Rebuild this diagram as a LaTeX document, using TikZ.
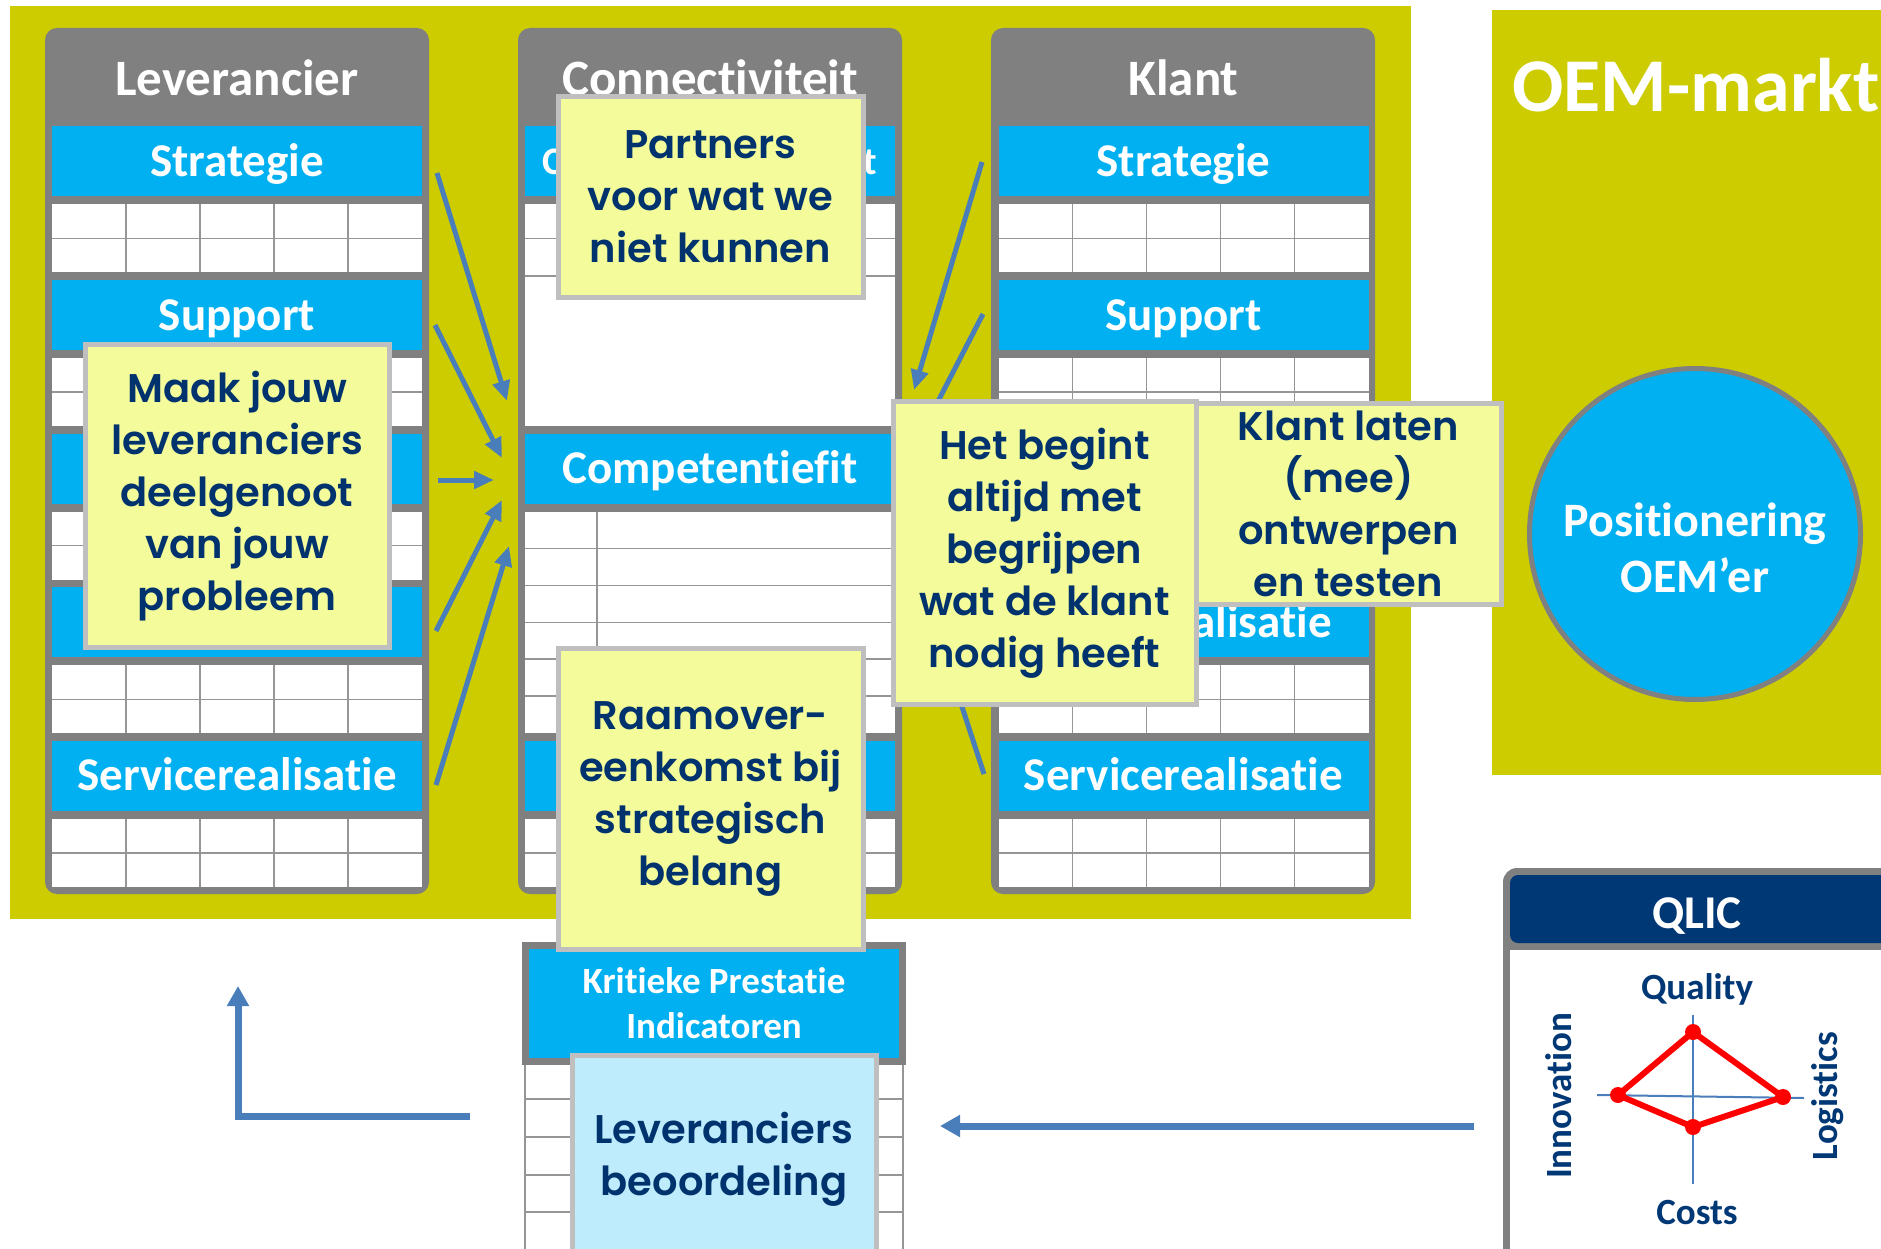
\documentclass[tikz,border=0pt]{standalone}
\usepackage{fontspec}
\setmainfont{Carlito}[Ligatures=NoCommon]
\newfontfamily\notefont{Poppins SemiBold}
\usetikzlibrary{arrows.meta}

\definecolor{oemgreen}{RGB}{204,204,0}
\definecolor{bandblue}{RGB}{0,176,240}
\definecolor{colgray}{RGB}{128,128,128}
\definecolor{gridgray}{RGB}{150,150,150}
\definecolor{noteyellow}{RGB}{244,251,155}
\definecolor{noteedge}{RGB}{191,191,191}
\definecolor{notetext}{RGB}{0,51,110}
\definecolor{paleblue}{RGB}{190,236,252}
\definecolor{qlicblue}{RGB}{0,56,118}
\definecolor{arrowblue}{RGB}{74,126,187}

\begin{document}
\begin{tikzpicture}[x=1pt, y=-1pt,
    bandbox/.style={fill=bandblue, text=white, minimum width=370pt, minimum height=70pt,
      inner sep=0pt, font=\bfseries\fontsize{47}{52}\selectfont, text height=36pt, text depth=6pt},
    colhead/.style={text=white, inner sep=0pt, font=\bfseries\fontsize{51}{56}\selectfont,
      text height=40pt, text depth=7pt},
    gridline/.style={draw=gridgray, line width=1.5pt},
    sticky/.style={fill=noteyellow, draw=noteedge, line width=5pt, text=notetext, align=center,
      inner sep=0pt, font=\notefont\fontsize{40}{52}\selectfont},
    flow/.style={draw=arrowblue, line width=5pt, -{Triangle[length=20pt, width=17pt]}},
    kpiflow/.style={draw=arrowblue, line width=7pt, -{Triangle[length=20pt, width=21pt]}},
    qlictext/.style={text=qlicblue, inner sep=0pt, font=\bfseries\fontsize{37}{40}\selectfont}]
  \useasboundingbox (0,0) rectangle (1881,1249);

  % olive backgrounds
  \fill[oemgreen] (10,6) rectangle (1411,919);
  \fill[oemgreen] (1492,10) rectangle (1881,775);

  % three columns
  \foreach \cx in {45,518,991}
    \fill[colgray, rounded corners=12pt] (\cx,28) rectangle ++(384,866);

  \node[colhead] (lev-head) at (237,79) {Leverancier};
  \node[colhead] (con-head) at (710,79) {Connectiviteit};
  \node[colhead] (kla-head) at (1183.5,79) {Klant};

  % Leverancier and Klant: five sections each
  \foreach \cx/\col in {237/lev,1183.5/kla}
    \foreach \k/\txt in {0/Strategie,1/Support,2/,3/,4/Servicerealisatie} {
      \pgfmathsetmacro\ty{126.5+153.6*\k}
      \node[bandbox] (\col-b\k) at (\cx,\ty+35) {\txt};
      \fill[white] (\cx-185,\ty+78) rectangle ++(370,68);
      \draw[gridline] (\cx-185,\ty+112) -- ++(370,0);
      \foreach \i in {1,...,4}
        \draw[gridline] (\cx-185+74*\i,\ty+78) -- ++(0,68);
    }
  \node[bandbox, fill=none, minimum width=0pt, minimum height=0pt, text height=31pt, text depth=0pt,
    anchor=south east] (kla-b3-txt) at (1332,637.3) {alisatie};

  % Connectiviteit
  \node[bandbox, font=\bfseries\fontsize{39}{44}\selectfont, text height=33pt] (con-b0) at (710,161.5)
    {\makebox[335pt]{C\hfill t}};
  \fill[white] (525,204.5) rectangle (895,425.7);
  \draw[gridline] (525,238.5) -- ++(370,0);
  \draw[gridline] (525,276) -- ++(370,0);
  \node[bandbox] (con-b2) at (710,468.7) {Competentiefit};
  \fill[white] (525,511.7) rectangle (895,732.9);
  \foreach \r in {1,...,5}
    \draw[gridline] (525,511.7+36.87*\r) -- ++(370,0);
  \draw[gridline] (597,511.7) -- (597,732.9);
  \node[bandbox] (con-b4) at (710,775.9) {};
  \fill[white] (525,818.9) rectangle (895,886.9);
  \draw[gridline] (525,852.9) -- ++(370,0);

  % arrows into Competentiefit
  \foreach \i/\sx/\sy/\ex/\ey in {1/437/173/507/401, 2/435/325/502/458, 3/438/480/494/480,
      4/436/631/502/500, 5/436/785/509/546, 6/982/162/914/390, 7/983/314/915/446, 8/984/774/914/560} {
    \coordinate (fs\i) at (\sx,\sy);
    \coordinate (fe\i) at (\ex,\ey);
    \draw[flow] (fs\i) -- (fe\i);
  }

  % KPI block with grid below
  \fill[white] (525,1065) rectangle (903,1262);
  \draw[gridline] (525,1065) -- (525,1262);
  \draw[gridline] (903,1065) -- (903,1262);
  \foreach \ry in {1099,1137,1175,1212,1250}
    \draw[gridline] (525,\ry) -- (903,\ry);
  \node[fill=bandblue, draw=colgray, line width=7pt, minimum width=377pt, minimum height=116pt,
    inner sep=0pt, text=white, align=center, font=\bfseries\fontsize{37}{45}\selectfont]
    (kpi) at (714,1003.5) {Kritieke Prestatie\\Indicatoren};

  % sticky notes
  \node[sticky, minimum width=305pt, minimum height=201pt] (partners) at (710.5,197)
    {Partners\\voor wat we\\niet kunnen};
  \node[sticky, minimum width=304pt, minimum height=303pt] (maak) at (237,496)
    {Maak jouw\\leveranciers\\deelgenoot\\van jouw\\probleem};
  \node[sticky, minimum width=305pt, minimum height=301pt] (raam) at (710.5,799)
    {Raamover-\\eenkomst bij\\strategisch\\belang};
  \node[sticky, minimum width=305pt, minimum height=201pt] (laten) at (1348.5,504)
    {Klant laten\\(mee)\\ontwerpen\\en testen};
  \node[sticky, minimum width=303pt, minimum height=303pt] (begint) at (1044.5,553)
    {Het begint\\altijd met\\begrijpen\\wat de klant\\nodig heeft};
  \node[sticky, fill=paleblue, minimum width=304pt, minimum height=208pt] (beoordeling) at (724,1159)
    {Leveranciers\\beoordeling};

  % OEM-markt
  \node[text=white, inner sep=0pt, font=\bfseries\fontsize{76}{80}\selectfont] (oem) at (1696,85) {OEM-markt};
  \node[circle, fill=bandblue, draw=colgray, line width=5pt, minimum size=331pt] (pos) at (1695,534) {};
  \node[text=white, align=center, inner sep=0pt, font=\bfseries\fontsize{48}{56}\selectfont]
    (pos-txt) at (1695,548) {Positionering\\OEM’er};

  % QLIC box
  \fill[colgray, rounded corners=14pt] (1503,868) rectangle (1910,1280);
  \fill[white] (1510,950) rectangle (1903,1273);
  \fill[qlicblue, rounded corners=8pt] (1510,875) rectangle (1903,943);
  \node[text=white, inner sep=0pt, font=\bfseries\fontsize{47}{50}\selectfont] (qlic) at (1697,916) {QLIC};
  \node[qlictext] (quality) at (1697,989) {Quality};
  \node[qlictext] (costs) at (1697,1212) {Costs};
  \node[qlictext, rotate=90] (innovation) at (1559,1096) {Innovation};
  \node[qlictext, rotate=90] (logistics) at (1828,1096) {Logistics};
  \coordinate (ax-t) at (1693,1015); \coordinate (ax-b) at (1693,1184);
  \coordinate (ax-l) at (1597,1095); \coordinate (ax-r) at (1804,1098);
  \draw[arrowblue, line width=2pt] (ax-t) -- (ax-b);
  \draw[arrowblue, line width=2pt] (ax-l) -- (ax-r);
  \coordinate (rq) at (1693,1032); \coordinate (rl) at (1783,1097);
  \coordinate (rc) at (1693,1127); \coordinate (ri) at (1618,1095);
  \draw[red, line width=6pt, line join=round] (rq) -- (rl) -- (rc) -- (ri) -- cycle;
  \foreach \p in {rq,rl,rc,ri} \fill[red] (\p) circle (8pt);

  % feedback arrows
  \coordinate (qlic-out) at (1474,1126);
  \coordinate (beo-in) at (940,1126);
  \draw[kpiflow] (qlic-out) -- (beo-in);
  \coordinate (back-start) at (470,1116);
  \coordinate (back-corner) at (238,1116);
  \coordinate (back-tip) at (238,986);
  \draw[kpiflow] (back-start) -- (back-corner) -- (back-tip);
\end{tikzpicture}
\end{document}
